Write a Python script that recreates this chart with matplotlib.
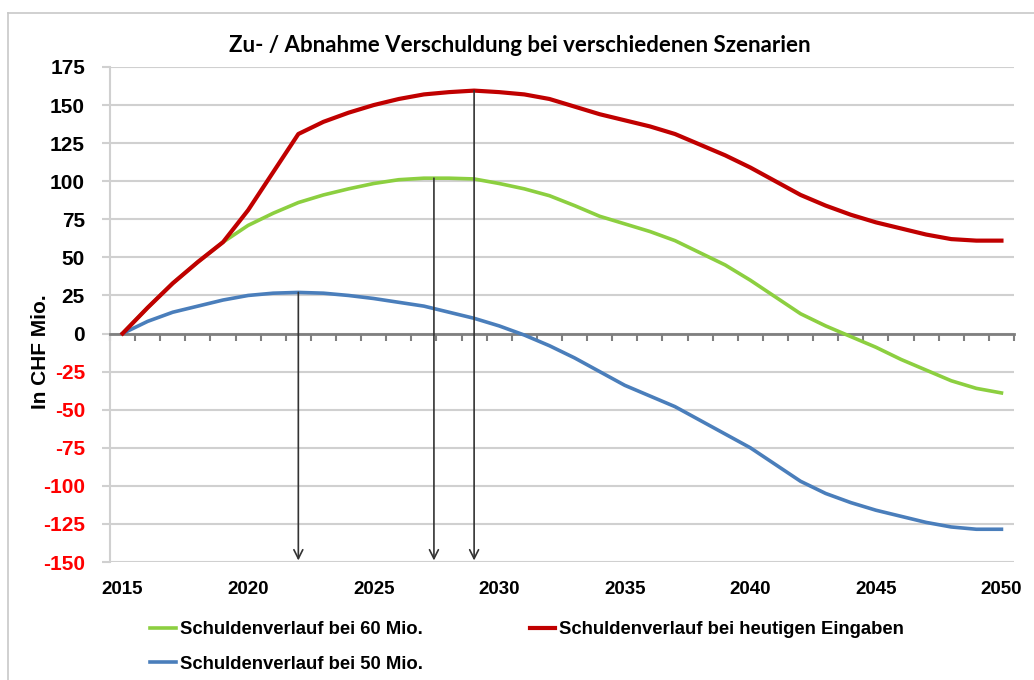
import matplotlib.pyplot as plt
from matplotlib.lines import Line2D

# years on the category axis
years = list(range(2015, 2051))

# debt development in CHF Mio. per scenario
red_values = [0, 17, 33, 47, 60, 81, 106, 131, 139, 145, 150, 154, 157, 158.5, 159.5,
              158.5, 157, 154, 149, 144, 140, 136, 131, 124, 117, 109, 100, 91, 84, 78,
              73, 69, 65, 62, 61, 61]
green_values = [0, 17, 33, 47, 60, 71, 79, 86, 91, 95, 98.5, 101, 102, 102, 101.5,
                98.5, 95, 90.5, 84, 77, 72, 67, 61, 53, 45, 35, 24, 13, 5, -2,
                -9, -17, -24, -31, -36, -39]
blue_values = [0, 8, 14, 18, 22, 25, 26.5, 27, 26.5, 25, 23, 20.5, 18, 14, 10,
               5, -1, -8, -16, -25, -34, -41, -48, -57, -66, -75, -86, -97, -105, -111,
               -116, -120, -124, -127, -128.5, -128.5]

# peaks marked with arrows down to the axis
arrow_years = [2022, 2027.4, 2029]
arrow_tops = [27, 102, 159.5]

y_ticks = list(range(-150, 176, 25))
x_label_years = list(range(2015, 2051, 5))

plt.rcParams["font.family"] = ["Liberation Sans", "DejaVu Sans"]
plt.rcParams["font.weight"] = "bold"

fig = plt.figure(figsize=(10.34, 6.8), dpi=100)
ax = fig.add_axes([110 / 1034, 1 - 562 / 680, 904 / 1034, 495 / 680])

ax.set_xlim(2014.5, 2050.5)
ax.set_ylim(-150, 175)

# gridlines
ax.set_yticks(y_ticks)
ax.set_yticklabels([str(t) for t in y_ticks])
for lbl, t in zip(ax.get_yticklabels(), y_ticks):
    lbl.set_color("#ff0000" if t < 0 else "black")
ax.tick_params(axis="y", length=6, color="#d0d0d0", width=1.5, pad=12, labelsize=15)
ax.grid(axis="y", color="#d0d0d0", linewidth=1.5)
ax.set_axisbelow(True)

for s in ["top", "right"]:
    ax.spines[s].set_visible(False)
ax.spines["left"].set_color("#d0d0d0")
ax.spines["left"].set_linewidth(1.5)

# zero line with year tick marks
ax.spines["bottom"].set_position(("data", 0))
ax.spines["bottom"].set_color("#7f7f7f")
ax.spines["bottom"].set_linewidth(2)
ax.set_xticks([y - 0.5 for y in years] + [2050.5])
ax.set_xticklabels([])
ax.tick_params(axis="x", length=5, color="#7f7f7f", width=1.5, direction="out")

# year labels at the bottom of the plot
sec = ax.secondary_xaxis(0.0)
sec.set_xticks(x_label_years)
sec.set_xticklabels([str(y) for y in x_label_years])
sec.tick_params(length=0, pad=14, labelsize=13.5)
sec.spines["bottom"].set_visible(False)

ax.plot(years, green_values, color="#8ccf40", linewidth=2.6, zorder=3)
ax.plot(years, blue_values, color="#4a7ebb", linewidth=2.6, zorder=3)
ax.plot(years, red_values, color="#c00000", linewidth=3, zorder=4)

for xa, ya in zip(arrow_years, arrow_tops):
    ax.annotate("", xy=(xa, -149), xytext=(xa, ya),
                arrowprops=dict(arrowstyle="->", color="#333333", lw=1.2,
                                mutation_scale=16, shrinkA=0, shrinkB=0),
                zorder=5)

fig.text(0.503, 1 - 45 / 680, "Zu- / Abnahme Verschuldung bei verschiedenen Szenarien",
         ha="center", va="center", fontsize=16, fontweight="bold",
         family=["Lato", "DejaVu Sans"])
fig.text(40 / 1034, 1 - 352 / 680, "In CHF Mio.", rotation=90, ha="center",
         va="center", fontsize=15, fontweight="bold")

handles = [Line2D([], [], color="#8ccf40", linewidth=2.6),
           Line2D([], [], color="#4a7ebb", linewidth=2.6),
           Line2D([], [], color="#c00000", linewidth=3)]
labels = ["Schuldenverlauf bei 60 Mio.", "Schuldenverlauf bei 50 Mio.",
          "Schuldenverlauf bei heutigen Eingaben"]
fig.legend(handles, labels, ncol=2, loc="upper left",
           bbox_to_anchor=(150 / 1034, 1 - 621 / 680), frameon=False,
           fontsize=13.3, handlelength=1.4, handletextpad=0.2,
           columnspacing=5.8, labelspacing=0.95, borderpad=0, borderaxespad=0)

# outer frame
fig.add_artist(Line2D([8 / 1034, 1], [1 - 13 / 680, 1 - 13 / 680],
                      color="#c8c8c8", linewidth=1.2))
fig.add_artist(Line2D([8 / 1034, 8 / 1034], [0, 1 - 13 / 680],
                      color="#c8c8c8", linewidth=1.2))

fig.savefig("out.png", dpi=100)
